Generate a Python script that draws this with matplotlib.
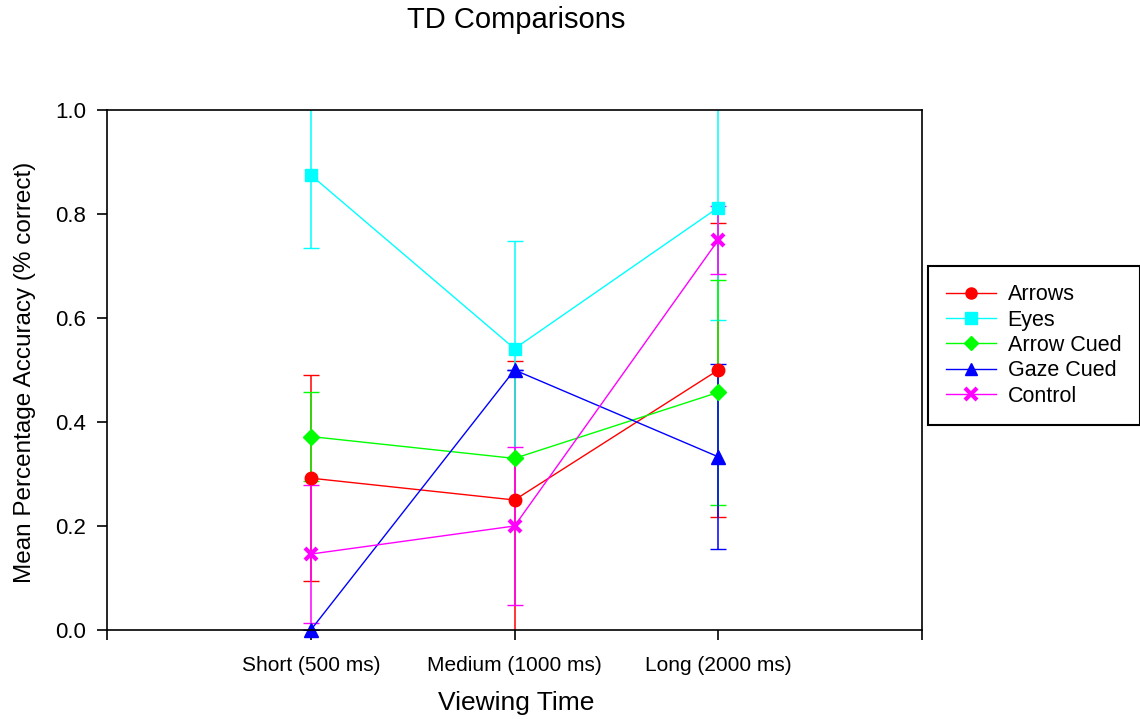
import numpy as np
import matplotlib.pyplot as plt
from matplotlib.lines import Line2D

# data
categories = ['Short (500 ms)', 'Medium (1000 ms)', 'Long (2000 ms)']
series = ['Arrows', 'Eyes', 'Arrow Cued', 'Gaze Cued', 'Control']

arrows = [0.292, 0.250, 0.500]
arrows_err = [0.198, 0.267, 0.282]
eyes = [0.875, 0.541, 0.8125]
eyes_err = [0.140, 0.208, 0.216]
arrow_cued = [0.372, 0.330, 0.457]
arrow_cued_err = [0.085, 0.0, 0.217]
gaze_cued = [0.0, 0.500, 0.333]
gaze_cued_err = [0.0, 0.0, 0.178]
control = [0.146, 0.200, 0.750]
control_err = [0.133, 0.151, 0.065]

plt.rcParams['font.family'] = ['Liberation Sans', 'DejaVu Sans']

fig = plt.figure(figsize=(11.4, 7.19), dpi=100)
ax = fig.add_axes([0.0939, 0.1238, 0.8088 - 0.0939, 0.847 - 0.1238])

x = np.arange(len(categories))
styles = [
    (arrows, arrows_err, '#ff0000', 'o', 9, 1),
    (eyes, eyes_err, '#00ffff', 's', 9, 1),
    (arrow_cued, arrow_cued_err, '#00ff00', 'D', 8, 1),
    (gaze_cued, gaze_cued_err, '#0000ff', '^', 10, 1),
    (control, control_err, '#ff00ff', 'x', 9, 3),
]

handles = []
for name, (vals, err, col, mk, ms, mew) in zip(series, styles):
    line, caps, bars = ax.errorbar(x, vals, yerr=err, color=col, marker=mk, ms=ms,
                                   mec=col, mfc=col, lw=1.0, elinewidth=1.1,
                                   capsize=6, capthick=1.0)
    line.set_markeredgewidth(mew)
    line.set_clip_on(False)
    handles.append(Line2D([], [], color=col, marker=mk, ms=ms - 1, mew=mew,
                          mec=col, mfc=col, lw=1.0, label=name))

ax.set_xlim(-1, 3)
ax.set_ylim(0, 1.0)
ax.set_xticks([-1, 0, 1, 2, 3])
ax.set_xticklabels([''] + categories + [''], fontsize=15)
ax.set_yticks(np.arange(0, 1.01, 0.2))
ax.set_yticklabels(['%.1f' % v for v in np.arange(0, 1.01, 0.2)], fontsize=16)

ax.tick_params(axis='both', direction='out', length=7, width=1.2, colors='black')
ax.tick_params(axis='x', pad=12)
ax.tick_params(axis='y', pad=8)
for sp in ax.spines.values():
    sp.set_linewidth(1.2)
    sp.set_color('black')

fig.text(25 / 1140, 1 - 372 / 719, 'Mean Percentage Accuracy (% correct)', fontsize=17.5,
         rotation=90, ha='center', va='center')
fig.text(516 / 1140, 1 - 703 / 719, 'Viewing Time', fontsize=19, ha='center', va='center')
fig.text(516 / 1140, 1 - 20 / 719, 'TD Comparisons', fontsize=21, ha='center', va='center')

leg = fig.legend(handles=handles, loc='upper left',
                 bbox_to_anchor=(928 / 1140, 1 - 266 / 719),
                 fontsize=15.5, frameon=True, fancybox=False, framealpha=1,
                 edgecolor='black', handlelength=2.3, handletextpad=0.55,
                 labelspacing=0.2, borderpad=0.85, borderaxespad=0)
leg.get_frame().set_linewidth(1.5)

fig.savefig('out.png', dpi=100)
